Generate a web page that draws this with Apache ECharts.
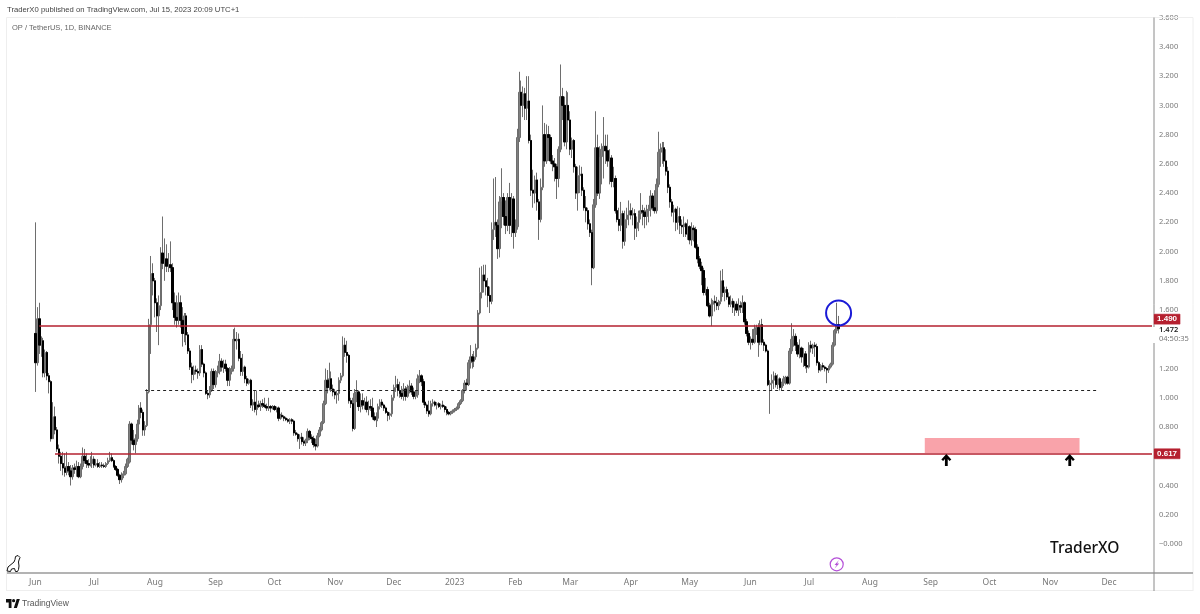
<![CDATA[<html lang="en">

<head>
  <meta charset="UTF-8">
  <title>OP / TetherUS</title>
  <style>
    body { margin: 0; background: #fff; }
    #chart { width: 1200px; height: 614px; }
  </style>
</head>

<body>
  <div id="chart"></div>

  <script src="https://cdn.jsdelivr.net/npm/echarts@6/dist/echarts.min.js"></script>
  <script>
    // daily candles read off the picture: [open, high, low, close]
    const may22 = [[1.44, 2.20, 1.04, 1.24]]
    const jun22 = [
      [1.24, 1.62, 1.22, 1.54], [1.54, 1.65, 1.30, 1.36], [1.36, 1.42, 1.28, 1.39], [1.39, 1.41, 1.14, 1.17], [1.17, 1.33, 1.14, 1.31],
      [1.31, 1.32, 1.12, 1.15], [1.15, 1.17, 1.03, 1.11], [1.11, 1.12, .70, .72], [.72, .97, .72, .87], [.87, .94, .75, .78],
      [.78, .80, .63, .65], [.65, .68, .55, .60], [.60, .63, .50, .55], [.55, .63, .47, .52], [.52, .62, .46, .49],
      [.49, .63, .47, .53], [.53, .56, .47, .50], [.50, .54, .40, .46], [.46, .54, .44, .52], [.52, .55, .48, .51],
      [.51, .57, .46, .53], [.53, .56, .45, .46], [.46, .55, .45, .53], [.53, .66, .51, .60], [.60, .65, .55, .57],
      [.57, .62, .52, .55], [.55, .58, .52, .54], [.54, .60, .53, .55], [.55, .63, .52, .58], [.58, .60, .52, .54]
    ]
    const jul22 = [
      [.54, .58, .53, .55], [.55, .58, .52, .53], [.53, .56, .52, .54], [.54, .56, .52, .535], [.535, .55, .52, .53],
      [.53, .56, .52, .55], [.55, .59, .54, .57], [.57, .63, .56, .59], [.59, .62, .56, .57], [.57, .58, .52, .53],
      [.53, .54, .50, .51], [.51, .52, .46, .47], [.47, .48, .41, .44], [.44, .49, .42, .47], [.47, .50, .45, .48],
      [.48, .55, .47, .53], [.53, .59, .52, .58], [.56, .84, .55, .82], [.82, .83, .68, .71], [.71, .78, .64, .68],
      [.68, .75, .62, .72], [.72, .85, .70, .82], [.82, .95, .80, .93], [.93, .97, .86, .90], [.90, .92, .74, .78],
      [.78, .84, .74, .81], [.81, 1.06, .80, 1.04], [1.04, 1.54, 1.03, 1.50], [1.50, 1.97, 1.30, 1.85], [1.85, 1.92, 1.70, 1.80],
      [1.80, 1.82, 1.55, 1.65]
    ]
    const aug22 = [
      [1.65, 1.68, 1.45, 1.56], [1.56, 1.70, 1.36, 1.63], [1.63, 2.03, 1.60, 1.99], [1.99, 2.24, 1.88, 1.92], [1.92, 2.09, 1.80, 1.95],
      [1.95, 2.05, 1.86, 1.90], [1.90, 1.99, 1.86, 1.91], [1.91, 2.07, 1.86, 1.89], [1.89, 1.92, 1.60, 1.65], [1.65, 1.72, 1.50, 1.55],
      [1.55, 1.70, 1.48, 1.53], [1.53, 1.72, 1.50, 1.65], [1.65, 1.70, 1.48, 1.53], [1.53, 1.62, 1.35, 1.44], [1.44, 1.58, 1.38, 1.56],
      [1.56, 1.58, 1.36, 1.43], [1.43, 1.45, 1.30, 1.32], [1.32, 1.34, 1.19, 1.21], [1.21, 1.24, 1.10, 1.16], [1.16, 1.22, 1.12, 1.19],
      [1.19, 1.22, 1.16, 1.18], [1.18, 1.20, 1.13, 1.17], [1.17, 1.36, 1.15, 1.33], [1.33, 1.36, 1.21, 1.23], [1.23, 1.24, 1.14, 1.17],
      [1.17, 1.18, 1.02, 1.03], [1.03, 1.05, .99, 1.02], [1.02, 1.08, 1.00, 1.05], [1.05, 1.20, 1.04, 1.18], [1.18, 1.20, 1.06, 1.09],
      [1.09, 1.19, 1.07, 1.17]
    ]
    const sep22 = [
      [1.17, 1.22, 1.14, 1.18], [1.18, 1.30, 1.16, 1.25], [1.25, 1.27, 1.18, 1.21], [1.21, 1.26, 1.17, 1.23], [1.23, 1.26, 1.18, 1.20],
      [1.20, 1.21, 1.08, 1.12], [1.12, 1.21, 1.08, 1.18], [1.18, 1.22, 1.16, 1.20], [1.20, 1.47, 1.18, 1.40], [1.40, 1.48, 1.35, 1.39],
      [1.39, 1.45, 1.33, 1.40], [1.40, 1.44, 1.25, 1.27], [1.27, 1.32, 1.15, 1.18], [1.18, 1.30, 1.15, 1.21], [1.21, 1.22, 1.10, 1.13],
      [1.13, 1.15, 1.08, 1.10], [1.10, 1.13, 1.09, 1.12], [1.12, 1.13, .93, .95], [.95, .99, .91, .97], [.97, 1.05, .90, .92],
      [.92, 1.05, .88, .95], [.95, .98, .93, .94], [.94, .98, .91, .96], [.96, .99, .93, .95], [.95, 1.00, .93, .94],
      [.94, .96, .91, .93], [.93, 1.00, .91, .94], [.94, .95, .90, .93], [.93, .95, .92, .94], [.94, .95, .91, .92]
    ]
    const oct22 = [
      [.92, .94, .90, .93], [.93, .94, .84, .86], [.86, .89, .85, .88], [.88, .90, .86, .87], [.87, .88, .84, .86],
      [.86, .87, .84, .85], [.85, .86, .83, .84], [.84, .86, .82, .85], [.85, .86, .82, .84], [.84, .85, .74, .76],
      [.76, .78, .74, .75], [.75, .76, .70, .72], [.72, .75, .65, .73], [.73, .76, .68, .70], [.70, .73, .67, .69],
      [.69, .72, .67, .71], [.71, .79, .69, .77], [.77, .78, .71, .73], [.73, .75, .69, .72], [.72, .74, .66, .68],
      [.68, .72, .64, .67], [.67, .76, .66, .74], [.74, .80, .73, .78], [.78, .84, .77, .83], [.83, .98, .82, .96],
      [.96, 1.20, .95, 1.12], [1.12, 1.19, 1.03, 1.07], [1.07, 1.24, 1.05, 1.13], [1.13, 1.18, 1.04, 1.06], [1.06, 1.09, 1.01, 1.04],
      [1.04, 1.06, .99, 1.02]
    ]
    const nov22 = [
      [1.02, 1.05, .96, 1.03], [1.03, 1.14, .98, 1.12], [1.12, 1.17, 1.10, 1.15], [1.15, 1.42, 1.14, 1.36], [1.36, 1.41, 1.28, 1.31],
      [1.31, 1.39, 1.24, 1.29], [1.29, 1.30, .96, .98], [.98, 1.00, .93, .96], [.96, 1.00, .77, .79], [.79, 1.06, .78, 1.03],
      [1.03, 1.12, .97, 1.04], [1.04, 1.05, .91, .94], [.94, 1.03, .90, .98], [.98, 1.03, .92, .95], [.95, 1.00, .92, .97],
      [.97, 1.01, .90, .92], [.92, .98, .88, .94], [.94, .99, .91, .93], [.93, 1.00, .85, .87], [.87, .90, .84, .85],
      [.85, .90, .80, .86], [.86, .96, .84, .94], [.94, .99, .92, .97], [.97, .99, .93, .95], [.95, .96, .91, .93],
      [.93, .94, .89, .90], [.90, .91, .84, .88], [.88, .90, .85, .89], [.89, 1.02, .87, 1.00], [1.00, 1.09, .98, 1.07]
    ]
    const dec22 = [
      [1.07, 1.15, 1.04, 1.09], [1.09, 1.13, 1.01, 1.05], [1.05, 1.11, 1.00, 1.03], [1.03, 1.08, .99, 1.01], [1.01, 1.10, .98, 1.06],
      [1.06, 1.08, .98, 1.01], [1.01, 1.09, 1.00, 1.07], [1.07, 1.12, 1.03, 1.08], [1.08, 1.10, 1.02, 1.04], [1.04, 1.07, .99, 1.01],
      [1.01, 1.05, .99, 1.02], [1.02, 1.16, 1.00, 1.13], [1.13, 1.19, 1.10, 1.15], [1.15, 1.16, 1.08, 1.11], [1.11, 1.13, .95, .97],
      [.97, .99, .93, .95], [.95, .96, .89, .91], [.91, .98, .87, .89], [.89, .98, .88, .96], [.96, .99, .94, .97],
      [.97, .98, .94, .95], [.95, .97, .92, .96], [.96, .97, .93, .94], [.94, .96, .92, .95], [.95, .98, .93, .94],
      [.94, .95, .90, .92], [.92, .94, .88, .90], [.90, .91, .88, .89], [.89, .91, .88, .90], [.90, .92, .89, .91],
      [.91, .93, .90, .92]
    ]
    const jan23 = [
      [.92, .94, .91, .93], [.93, .97, .92, .96], [.96, .99, .95, .98], [.98, 1.06, .97, 1.05], [1.05, 1.12, 1.03, 1.10],
      [1.10, 1.13, 1.05, 1.09], [1.09, 1.26, 1.08, 1.24], [1.24, 1.36, 1.20, 1.28], [1.28, 1.30, 1.20, 1.25], [1.25, 1.32, 1.21, 1.28],
      [1.28, 1.37, 1.26, 1.34], [1.34, 1.60, 1.33, 1.58], [1.58, 1.89, 1.57, 1.72], [1.72, 1.90, 1.68, 1.84], [1.84, 1.91, 1.72, 1.80],
      [1.80, 1.91, 1.70, 1.76], [1.76, 1.82, 1.62, 1.70], [1.70, 1.76, 1.58, 1.66], [1.66, 2.20, 1.64, 2.15], [2.15, 2.50, 2.08, 2.20],
      [2.20, 2.51, 2.10, 2.18], [2.18, 2.22, 1.95, 2.02], [2.02, 2.38, 1.96, 2.34], [2.34, 2.57, 2.16, 2.37], [2.37, 2.40, 2.18, 2.24],
      [2.24, 2.35, 2.12, 2.18], [2.18, 2.40, 2.14, 2.37], [2.37, 2.47, 2.12, 2.18], [2.18, 2.40, 2.10, 2.36], [2.36, 2.38, 2.02, 2.13],
      [2.13, 2.22, 2.10, 2.17]
    ]
    const feb23 = [
      [2.17, 2.84, 2.15, 2.78], [2.78, 3.23, 2.75, 3.09], [3.09, 3.17, 2.95, 3.00], [3.00, 3.13, 2.92, 3.08], [3.08, 3.12, 2.90, 2.98],
      [2.98, 3.20, 2.90, 3.03], [3.03, 3.20, 2.74, 2.76], [2.76, 2.80, 2.38, 2.42], [2.42, 2.56, 2.30, 2.40], [2.40, 2.52, 2.33, 2.49],
      [2.49, 2.54, 2.28, 2.34], [2.34, 2.36, 2.08, 2.22], [2.22, 2.50, 2.20, 2.44], [2.44, 3.00, 2.42, 2.80], [2.80, 2.88, 2.58, 2.62],
      [2.62, 2.87, 2.60, 2.80], [2.80, 2.86, 2.62, 2.78], [2.78, 2.80, 2.60, 2.62], [2.62, 2.66, 2.55, 2.60], [2.60, 2.64, 2.48, 2.58],
      [2.58, 2.60, 2.36, 2.50], [2.50, 2.72, 2.44, 2.70], [2.70, 3.28, 2.68, 3.06], [3.06, 3.12, 2.90, 3.00], [3.00, 3.06, 2.72, 2.75],
      [2.75, 3.10, 2.70, 3.00], [3.00, 3.09, 2.85, 2.90], [2.90, 2.96, 2.66, 2.70]
    ]
    const mar23 = [
      [2.70, 2.78, 2.64, 2.76], [2.76, 2.77, 2.54, 2.58], [2.58, 2.60, 2.36, 2.40], [2.40, 2.58, 2.28, 2.52], [2.52, 2.59, 2.40, 2.53],
      [2.53, 2.58, 2.38, 2.42], [2.42, 2.44, 2.28, 2.30], [2.30, 2.38, 2.20, 2.28], [2.28, 2.30, 2.15, 2.19], [2.19, 2.22, 2.10, 2.13],
      [2.13, 2.15, 1.77, 1.89], [1.89, 2.36, 1.88, 2.32], [2.32, 2.96, 2.30, 2.71], [2.71, 2.80, 2.38, 2.40], [2.40, 2.72, 2.36, 2.65],
      [2.65, 2.74, 2.46, 2.70], [2.70, 2.92, 2.50, 2.72], [2.72, 2.80, 2.60, 2.69], [2.69, 2.80, 2.58, 2.62], [2.62, 2.70, 2.46, 2.64],
      [2.64, 2.66, 2.44, 2.48], [2.48, 2.58, 2.44, 2.50], [2.50, 2.52, 2.26, 2.28], [2.28, 2.30, 2.20, 2.22], [2.22, 2.30, 2.14, 2.18],
      [2.18, 2.34, 2.14, 2.26], [2.26, 2.28, 2.02, 2.07], [2.07, 2.28, 2.04, 2.22], [2.22, 2.30, 2.16, 2.25], [2.25, 2.35, 2.18, 2.28],
      [2.28, 2.33, 2.22, 2.25]
    ]
    const apr23 = [
      [2.25, 2.30, 2.18, 2.26], [2.26, 2.29, 2.08, 2.16], [2.16, 2.24, 2.10, 2.20], [2.20, 2.28, 2.14, 2.26], [2.26, 2.40, 2.22, 2.28],
      [2.28, 2.32, 2.18, 2.27], [2.27, 2.30, 2.16, 2.24], [2.24, 2.32, 2.18, 2.28], [2.28, 2.32, 2.20, 2.29], [2.29, 2.42, 2.24, 2.38],
      [2.38, 2.40, 2.28, 2.30], [2.30, 2.42, 2.26, 2.28], [2.28, 2.50, 2.26, 2.46], [2.46, 2.82, 2.44, 2.68], [2.68, 2.74, 2.58, 2.70],
      [2.70, 2.75, 2.60, 2.71], [2.71, 2.75, 2.58, 2.62], [2.62, 2.70, 2.52, 2.55], [2.55, 2.58, 2.40, 2.44], [2.44, 2.46, 2.30, 2.34],
      [2.34, 2.36, 2.24, 2.27], [2.27, 2.32, 2.20, 2.29], [2.29, 2.30, 2.14, 2.20], [2.20, 2.31, 2.15, 2.24], [2.24, 2.30, 2.12, 2.18],
      [2.18, 2.22, 2.12, 2.17], [2.17, 2.24, 2.10, 2.19], [2.19, 2.20, 2.10, 2.12], [2.12, 2.22, 2.08, 2.17], [2.17, 2.18, 2.05, 2.08]
    ]
    const may23 = [
      [2.08, 2.20, 2.04, 2.16], [2.16, 2.18, 2.07, 2.15], [2.15, 2.17, 2.02, 2.03], [2.03, 2.05, 1.92, 1.95], [1.95, 1.97, 1.88, 1.90],
      [1.90, 1.93, 1.77, 1.87], [1.87, 1.89, 1.70, 1.72], [1.72, 1.82, 1.70, 1.74], [1.74, 1.76, 1.62, 1.63], [1.63, 1.65, 1.55, 1.56],
      [1.56, 1.68, 1.49, 1.64], [1.64, 1.67, 1.58, 1.66], [1.66, 1.70, 1.59, 1.65], [1.65, 1.69, 1.60, 1.63], [1.63, 1.67, 1.60, 1.66],
      [1.66, 1.87, 1.64, 1.80], [1.80, 1.88, 1.69, 1.72], [1.72, 1.76, 1.66, 1.74], [1.74, 1.76, 1.67, 1.69], [1.69, 1.72, 1.62, 1.64],
      [1.64, 1.70, 1.62, 1.66], [1.66, 1.68, 1.58, 1.62], [1.62, 1.66, 1.56, 1.64], [1.64, 1.66, 1.58, 1.60], [1.60, 1.68, 1.56, 1.63],
      [1.63, 1.66, 1.58, 1.62], [1.62, 1.70, 1.58, 1.65], [1.65, 1.66, 1.50, 1.52], [1.52, 1.54, 1.42, 1.44], [1.44, 1.46, 1.36, 1.38],
      [1.38, 1.42, 1.33, 1.40]
    ]
    const jun23 = [
      [1.40, 1.47, 1.36, 1.38], [1.38, 1.50, 1.37, 1.47], [1.47, 1.50, 1.43, 1.48], [1.48, 1.51, 1.28, 1.38], [1.38, 1.53, 1.36, 1.50],
      [1.50, 1.54, 1.36, 1.38], [1.38, 1.40, 1.32, 1.36], [1.36, 1.37, 1.31, 1.32], [1.32, 1.33, 1.08, 1.09], [1.09, 1.12, .89, 1.10],
      [1.10, 1.16, 1.05, 1.12], [1.12, 1.18, 1.06, 1.15], [1.15, 1.17, 1.07, 1.09], [1.09, 1.16, 1.06, 1.13], [1.13, 1.14, 1.05, 1.07],
      [1.07, 1.11, 1.05, 1.10], [1.10, 1.15, 1.08, 1.13], [1.13, 1.15, 1.09, 1.14], [1.14, 1.15, 1.09, 1.10], [1.10, 1.34, 1.09, 1.32],
      [1.32, 1.51, 1.30, 1.40], [1.40, 1.47, 1.35, 1.42], [1.42, 1.44, 1.32, 1.36], [1.36, 1.38, 1.28, 1.30], [1.30, 1.40, 1.27, 1.34],
      [1.34, 1.35, 1.24, 1.28], [1.28, 1.34, 1.21, 1.30], [1.30, 1.32, 1.20, 1.22], [1.22, 1.26, 1.17, 1.21], [1.21, 1.38, 1.20, 1.36]
    ]
    const jul23 = [
      [1.36, 1.39, 1.31, 1.34], [1.34, 1.37, 1.30, 1.36], [1.36, 1.38, 1.28, 1.35], [1.35, 1.37, 1.22, 1.24], [1.24, 1.25, 1.17, 1.19],
      [1.19, 1.23, 1.18, 1.22], [1.22, 1.24, 1.19, 1.21], [1.21, 1.22, 1.18, 1.20], [1.20, 1.21, 1.10, 1.19], [1.19, 1.22, 1.17, 1.21],
      [1.21, 1.24, 1.20, 1.23], [1.23, 1.38, 1.22, 1.36], [1.36, 1.47, 1.35, 1.46], [1.46, 1.65, 1.44, 1.50], [1.50, 1.56, 1.44, 1.472]
    ]
    const monthNames = ['Jan', 'Feb', 'Mar', 'Apr', 'May', 'Jun', 'Jul', 'Aug', 'Sep', 'Oct', 'Nov', 'Dec']
    const levelHigh = 1.49
    const levelLow = 0.617
    const levelMid = 1.05
    const lastPrice = 1.472
    const targetZone = [0.725, 0.622]

    // axis days, the chart leaves empty room on both sides of the candles
    const days = []
    for (let t = Date.UTC(2022, 4, 18); days.length < 585; t += 86400000) {
      days.push(new Date(t).toISOString().slice(0, 10))
    }
    const candles = [].concat(may22, jun22, jul22, aug22, sep22, oct22, nov22, dec22, jan23, feb23, mar23, apr23, may23, jun23, jul23)
    const firstCandle = days.indexOf('2022-06-01')
    const blank = ['-', '-', '-', '-']
    const pad = Array(firstCandle).fill(blank)
    const allCandles = pad.concat(candles.map(([o, h, l, c]) => [o, c, l, h]))
    // black bodies of the falling days, wicks stay grey underneath
    const fallingBodies = pad.concat(candles.map(([o, h, l, c]) => c < o ? [o, c, c, o] : blank))

    const red = '#b5202f'
    const lineOf = (from, to, value, style, tag) => [
      { xAxis: from, yAxis: value, lineStyle: style, label: tag },
      { xAxis: to, yAxis: value }
    ]
    const priceTag = (text, offsetY) => ({
      show: true, position: 'end', formatter: text, distance: 2, offset: [0, offsetY],
      color: '#fff', fontWeight: 'bold', fontSize: 8, lineHeight: 8, fontFamily: 'Liberation Sans',
      backgroundColor: red, borderColor: '#d98791', borderWidth: 0.5, padding: [1, 3]
    })
    const arrowPath = 'path://M5 0 L10 5.5 L8.2 7 L6.4 5 L6.4 12 L3.6 12 L3.6 5 L1.8 7 L0 5.5 Z'

    const lineEl = (x1, y1, x2, y2, stroke, lineWidth) => ({
      type: 'line', silent: true, z: 5, shape: { x1, y1, x2, y2 }, style: { stroke, lineWidth }
    })
    const textEl = (x, y, text, font, fill) => ({
      type: 'text', silent: true, z: 20, x, y,
      style: { text, font, fill, textVerticalAlign: 'middle' }
    })
    const polyEl = (points, style, smooth) => ({
      type: 'polygon', silent: true, z: 20, shape: { points, smooth: smooth || 0 }, style
    })

    const chart = echarts.init(document.getElementById('chart'))
    chart.setOption({
      animation: false,
      backgroundColor: '#fff',
      grid: { left: 7, width: 1146, top: 17.7, height: 555.5 },
      xAxis: {
        type: 'category',
        data: days,
        axisLine: { show: false },
        axisTick: { show: false },
        splitLine: { show: false },
        axisLabel: {
          interval: (i, day) => day.endsWith('-01'),
          formatter: day => day.slice(5, 7) === '01' ? day.slice(0, 4) : monthNames[+day.slice(5, 7) - 1],
          color: '#777',
          fontSize: 8.5,
          fontFamily: 'Noto Sans',
          margin: 5
        }
      },
      yAxis: {
        type: 'value',
        position: 'right',
        min: -0.2,
        max: 3.6,
        interval: 0.2,
        axisLine: { show: false },
        axisTick: { show: false },
        splitLine: { show: false },
        axisLabel: {
          // 1.4 and 0.6 sit under the price tags in the original
          formatter: v => {
            const s = Math.abs(v).toFixed(3)
            if (s === '0.200' && v < 0 || s === '1.400' || s === '0.600') return ''
            return s === '0.000' ? '\u22120.000' : s
          },
          color: '#787878',
          fontSize: 7.5,
          fontFamily: 'Noto Sans',
          padding: [2, 0, 0, 0],
          margin: 6
        }
      },
      series: [
        {
          name: 'OP / TetherUS',
          type: 'candlestick',
          data: allCandles,
          barWidth: 2,
          itemStyle: { color: '#7f7f7f', color0: '#7f7f7f', borderColor: '#6e6e6e', borderColor0: '#6e6e6e', borderWidth: 1 },
          markLine: {
            silent: true,
            symbol: 'none',
            label: { show: false },
            data: [
              lineOf('2022-06-03', days[days.length - 1], levelHigh, { color: red, width: 1.5, type: 'solid' }, priceTag('1.490', -7)),
              lineOf('2022-06-11', days[days.length - 1], levelLow, { color: red, width: 1.5, type: 'solid' }, priceTag('0.617', 0)),
              lineOf('2022-07-27', '2023-11-26', levelMid, { color: '#222', width: 1, type: [3, 3] })
            ]
          },
          markArea: {
            silent: true,
            itemStyle: { color: '#f9a3aa' },
            data: [[{ xAxis: '2023-08-29', yAxis: targetZone[0] }, { xAxis: '2023-11-16', yAxis: targetZone[1] }]]
          },
          markPoint: {
            silent: true,
            label: { show: false },
            data: [
              { coord: ['2023-07-16', 1.58], symbol: 'circle', symbolSize: 25, itemStyle: { color: 'rgba(0,0,0,0)', borderColor: '#1a1ad6', borderWidth: 2 } },
              { coord: ['2023-09-09', 0.575], symbol: arrowPath, symbolSize: [10, 12], itemStyle: { color: '#000' } },
              { coord: ['2023-11-11', 0.575], symbol: arrowPath, symbolSize: [10, 12], itemStyle: { color: '#000' } }
            ]
          }
        },
        {
          type: 'candlestick',
          data: fallingBodies,
          barWidth: 2,
          itemStyle: { color: '#000', color0: '#000', borderColor: '#000', borderColor0: '#000', borderWidth: 1 }
        }
      ],
      graphic: [
        lineEl(6.5, 17.5, 1193, 17.5, '#eeeeee', 1),
        lineEl(6.5, 17.5, 6.5, 591, '#eeeeee', 1),
        lineEl(1193, 17.5, 1193, 591, '#eeeeee', 1),
        lineEl(6.5, 590.5, 1193, 590.5, '#eeeeee', 1),
        lineEl(7, 573, 1193, 573, '#9a9a9a', 1.5),
        lineEl(1154, 17.5, 1154, 591, '#8a8a8a', 1),
        { type: 'rect', silent: true, z: 6, shape: { x: 1153, y: 327, width: 39, height: 16 }, style: { fill: '#fff' } },
        textEl(1159, 330, lastPrice.toFixed(3), '600 7.5px "Noto Sans"', '#222'),
        textEl(1159, 339, '04:50:35', '7.5px "Noto Sans"', '#777'),
        textEl(7, 10, 'TraderX0 published on TradingView.com, Jul 15, 2023 20:09 UTC+1', '7.7px "Liberation Sans"', '#444'),
        textEl(12, 28, 'OP / TetherUS, 1D, BINANCE', '7.5px "Liberation Sans"', '#666'),
        textEl(1050, 548.5, 'TraderXO', '500 15.5px "Noto Sans"', '#111'),
        textEl(22, 603.5, 'TradingView', '8.5px "Liberation Sans"', '#555'),
        polyEl([[6, 599], [11.5, 599], [11.5, 608], [8.7, 608], [8.7, 602.5], [6, 602.5]], { fill: '#111' }),
        polyEl([[16.9, 608], [13.8, 608], [16.7, 599], [19.8, 599]], { fill: '#111' }),
        { type: 'circle', silent: true, z: 20, shape: { cx: 13.6, cy: 600.7, r: 1.6 }, style: { fill: '#111' } },
        polyEl([[7, 571], [8, 567], [11, 564.5], [14, 562], [15, 559.5], [15.5, 556.5], [18, 555.5], [20, 557.5], [19, 560], [18.5, 562], [19, 566], [18.5, 569.5], [17.5, 571.5], [15.5, 571.5], [14.5, 568.5], [11.5, 569], [10.5, 571.5]], { fill: '#fff', stroke: '#111', lineWidth: 1 }),
        { type: 'circle', silent: true, z: 20, shape: { cx: 836.7, cy: 564.3, r: 6.5 }, style: { fill: '#fff', stroke: '#b44fd8', lineWidth: 1.2 } },
        Object.assign(polyEl([[839, 560], [834.5, 565], [836.6, 565], [834.6, 568.6], [839.2, 563.4], [837, 563.4]], { fill: '#b44fd8' }), { z: 21 })
      ]
    })
  </script>
</body>

</html>
]]>
